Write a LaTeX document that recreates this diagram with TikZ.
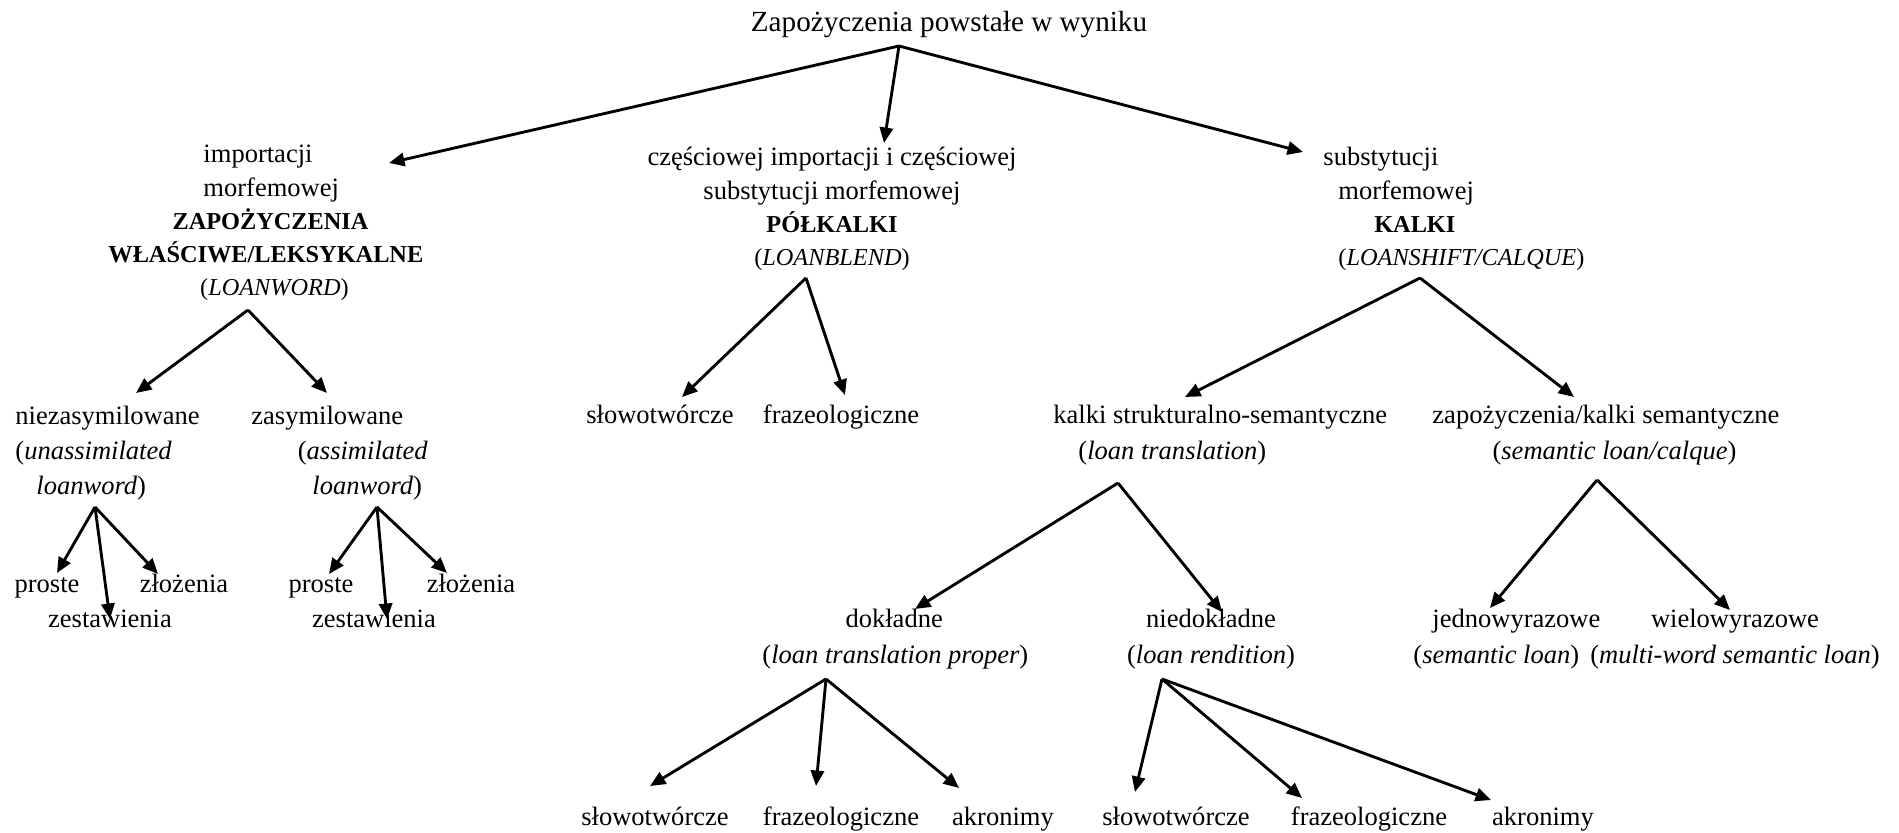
\documentclass[tikz,border=0pt]{standalone}
\usepackage{fontspec}
\setmainfont{Liberation Serif}
\usetikzlibrary{arrows.meta}

\begin{document}
\begin{tikzpicture}[x=0.0159cm, y=-0.0159cm,
  txt/.style={inner sep=0pt, font=\fontsize{12}{15}\selectfont},
  arr/.style={line width=1.3pt, -{Triangle[length=7pt,width=6pt]}}]
  \useasboundingbox (0,0) rectangle (1899,833);

  % Root
  \node[txt, font=\fontsize{13.2}{15}\selectfont, anchor=base] (title) at (949,32) {Zapożyczenia powstałe w wyniku};

  % First level
  \node[txt, anchor=west, align=left] (imp) at (108,223) {\hspace*{43pt}importacji\\
    \hspace*{43pt}morfemowej\\
    \hspace*{29pt}{\fontsize{11}{15}\selectfont\bfseries ZAPOŻYCZENIA}\\
    {\fontsize{11}{15}\selectfont\bfseries WŁAŚCIWE/LEKSYKALNE}\\
    \hspace*{41.5pt}{\fontsize{11}{15}\selectfont(\textit{LOANWORD})}};
  \node[txt, align=center] (pol) at (832,209) {częściowej importacji i częściowej\\
    substytucji morfemowej\\
    {\fontsize{11}{15}\selectfont\bfseries PÓŁKALKI}\\
    {\fontsize{11}{15}\selectfont(\textit{LOANBLEND})}};
  \node[txt, anchor=west, align=left] (sub) at (1323,209) {substytucji\\
    \hspace*{6.8pt}morfemowej\\
    \hspace*{23pt}{\fontsize{11}{15}\selectfont\bfseries KALKI}\\
    \hspace*{6.8pt}{\fontsize{11}{15}\selectfont(\textit{LOANSHIFT/CALQUE})}};

  % Second level
  \node[txt, font=\fontsize{12}{16}\selectfont, anchor=west, align=left] (niez) at (15,453) {niezasymilowane\\
    (\textit{unassimilated}\\
    \hspace*{9.5pt}\textit{loanword})};
  \node[txt, font=\fontsize{12}{16}\selectfont, anchor=west, align=left] (zas) at (251,453) {zasymilowane\\
    \hspace*{21pt}(\textit{assimilated}\\
    \hspace*{27.6pt}\textit{loanword})};
  \node[txt, anchor=base] (slow1) at (660,424) {słowotwórcze};
  \node[txt, anchor=base] (fraz1) at (841,424) {frazeologiczne};
  \node[txt, font=\fontsize{12}{16}\selectfont, anchor=west, align=left] (struk) at (1053,435) {kalki strukturalno-semantyczne\\
    \hspace*{11.3pt}(\textit{loan translation})};
  \node[txt, font=\fontsize{12}{16}\selectfont, anchor=west, align=left] (sem) at (1432,435) {zapożyczenia/kalki semantyczne\\
    \hspace*{27.2pt}(\textit{semantic loan/calque})};

  % Leaves under loanwords
  \node[txt, anchor=base] (pro1) at (47,593) {proste};
  \node[txt, anchor=base] (zlo1) at (184,593) {złożenia};
  \node[txt, anchor=base] (zes1) at (110,628) {zestawienia};
  \node[txt, anchor=base] (pro2) at (321,593) {proste};
  \node[txt, anchor=base] (zlo2) at (471,593) {złożenia};
  \node[txt, anchor=base] (zes2) at (374,628) {zestawienia};

  % Third level
  \node[txt, font=\fontsize{12}{16.4}\selectfont, anchor=west, align=left] (dokl) at (762,639) {\hspace*{37.6pt}dokładne\\
    (\textit{loan translation proper})};
  \node[txt, font=\fontsize{12}{16.4}\selectfont, align=center] (niedokl) at (1211,639) {niedokładne\\
    (\textit{loan rendition})};
  \node[txt, font=\fontsize{12}{16.4}\selectfont, anchor=west, align=left] (jedn) at (1413,639) {\hspace*{8.6pt}jednowyrazowe\\
    (\textit{semantic loan})};
  \node[txt, font=\fontsize{12}{16.4}\selectfont, align=center] (wiel) at (1735,639) {wielowyrazowe\\
    (\textit{multi-word semantic loan})};

  % Bottom row
  \node[txt, anchor=base] (slow2) at (655,825) {słowotwórcze};
  \node[txt, anchor=base] (fraz2) at (841,825) {frazeologiczne};
  \node[txt, anchor=base] (akr2) at (1003,825) {akronimy};
  \node[txt, anchor=base] (slow3) at (1176,825) {słowotwórcze};
  \node[txt, anchor=base] (fraz3) at (1369,825) {frazeologiczne};
  \node[txt, anchor=base] (akr3) at (1543,825) {akronimy};

  % Arrow ends
  \coordinate (title-out) at (899,46);
  \coordinate (imp-in) at (389,163);
  \coordinate (pol-in) at (884,143);
  \coordinate (sub-in) at (1303,152);
  \coordinate (imp-out) at (248,310);
  \coordinate (niez-in) at (136,393);
  \coordinate (zas-in) at (327,393);
  \coordinate (pol-out) at (806,278);
  \coordinate (slow1-in) at (682,397);
  \coordinate (fraz1-in) at (845,395);
  \coordinate (sub-out) at (1420,278);
  \coordinate (struk-in) at (1185,397);
  \coordinate (sem-in) at (1574,397);
  \coordinate (niez-out) at (95,507);
  \coordinate (pro1-in) at (57,573);
  \coordinate (zes1-in) at (110,619);
  \coordinate (zlo1-in) at (158,574);
  \coordinate (zas-out) at (377,507);
  \coordinate (pro2-in) at (329,574);
  \coordinate (zes2-in) at (387,619);
  \coordinate (zlo2-in) at (447,573);
  \coordinate (struk-out) at (1118,483);
  \coordinate (dokl-in) at (915,609);
  \coordinate (niedokl-in) at (1222,612);
  \coordinate (sem-out) at (1597,480);
  \coordinate (jedn-in) at (1490,608);
  \coordinate (wiel-in) at (1730,610);
  \coordinate (dokl-out) at (826,679);
  \coordinate (slow2-in) at (650,786);
  \coordinate (fraz2-in) at (816,786);
  \coordinate (akr2-in) at (959,788);
  \coordinate (niedokl-out) at (1162,679);
  \coordinate (slow3-in) at (1135,792);
  \coordinate (fraz3-in) at (1302,798);
  \coordinate (akr3-in) at (1491,800);

  % Arrows
  \foreach \s/\t in {title/imp, title/pol, title/sub, imp/niez, imp/zas, pol/slow1, pol/fraz1,
      sub/struk, sub/sem, niez/pro1, niez/zes1, niez/zlo1, zas/pro2, zas/zes2, zas/zlo2,
      struk/dokl, struk/niedokl, sem/jedn, sem/wiel, dokl/slow2, dokl/fraz2, dokl/akr2,
      niedokl/slow3, niedokl/fraz3, niedokl/akr3}
    \draw[arr] (\s-out) -- (\t-in);
\end{tikzpicture}
\end{document}
